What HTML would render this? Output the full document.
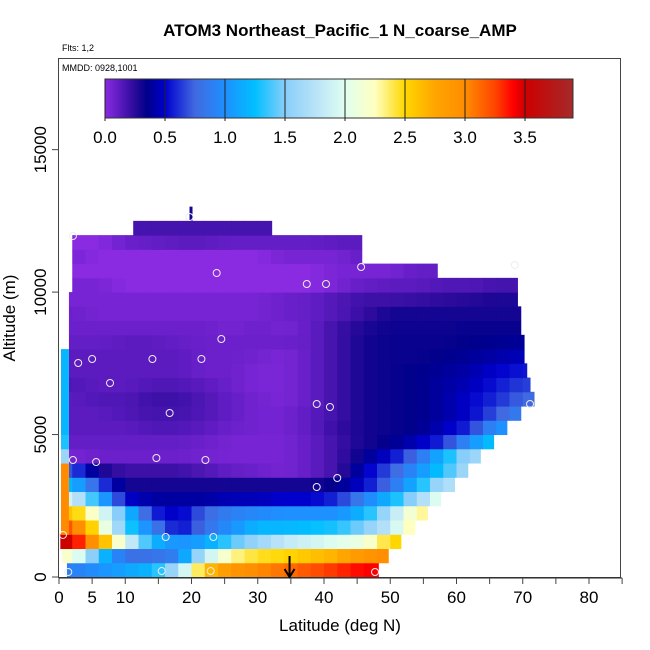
<!DOCTYPE html>
<html><head><meta charset="utf-8"><style>
body{margin:0;background:#fff;}
svg{display:block;font-family:"Liberation Sans",sans-serif;}
</style></head><body>
<svg id="chart" width="650" height="650" xmlns="http://www.w3.org/2000/svg">
<text x="340" y="36" text-anchor="middle" font-size="17" font-weight="bold">ATOM3 Northeast_Pacific_1 N_coarse_AMP</text>
<text x="62" y="51" font-size="9">Flts: 1,2</text>
<g id="heat"></g>
<g id="pts"></g>
<rect x="58.5" y="58.5" width="562" height="519" fill="none" stroke="#444" stroke-width="1"/>
<text x="62" y="71" font-size="9">MMDD: 0928,1001</text>
<g id="cbar"></g>
<g id="axes"></g>
<text x="340" y="631" text-anchor="middle" font-size="17">Latitude (deg N)</text>
<text transform="translate(15,318) rotate(-90)" text-anchor="middle" font-size="17">Altitude (m)</text>
</svg>
<script>
const colStep = 2;
const rowStep = 500;
const rowStart = [1.2,0.5,0.2,0.5,1.2,1.2,1.5,1.5,1.5,1.5,1.5,1.5,1.5,1.5,1.5,1.5,1.5,1.5,1.5,1.5,2,2,2,2,11.2];
const rowEnd = [48.2,49.7,51.6,53.7,55.6,57.6,59.7,61.7,63.6,65.6,67.6,69.7,71.7,71.1,70.6,70.2,70.2,69.7,69.7,69.2,69.2,57.1,45.7,45.7,32.1];
// values sampled every 4 deg; rendered with 2-deg interpolation between neighbours
const values = [
[0.9,1.0,1.1,1.2,1.7,2.6,2.9,3.0,3.1,3.2,3.3,3.4,3.4],
[2.2,1.3,0.8,0.8,0.9,1.8,2.3,2.45,2.5,2.6,2.7,2.9,3.0],
[3.5,2.8,2.0,1.2,1.0,1.1,1.4,1.6,1.8,1.9,2.0,2.1,2.5],
[3.2,2.3,1.4,0.9,0.5,0.8,1.0,1.2,1.2,1.25,1.3,1.5,1.8,2.4],
[2.6,2.1,1.3,0.6,0.45,0.75,0.9,0.95,1.0,1.0,1.0,1.2,1.7,2.3],
[1.9,1.2,0.5,0.4,0.4,0.4,0.45,0.45,0.5,0.5,0.6,0.9,1.2,1.6,2.1],
[1.2,0.7,0.3,0.3,0.3,0.3,0.3,0.3,0.3,0.3,0.35,0.5,0.8,1.2,1.7],
[0.7,0.3,0.2,0.2,0.2,0.15,0.1,0.08,0.05,0.1,0.2,0.45,0.7,1.0,1.3,1.7],
[0.05,0.08,0.08,0.08,0.08,0.06,0.05,0.05,0.05,0.1,0.2,0.35,0.5,0.8,1.2,1.6],
[0.1,0.1,0.1,0.1,0.1,0.08,0.05,0.05,0.05,0.1,0.2,0.3,0.35,0.45,0.6,1.0,1.3],
[0.12,0.12,0.12,0.15,0.15,0.12,0.08,0.06,0.06,0.12,0.22,0.3,0.33,0.35,0.45,0.6,1.0],
[0.12,0.12,0.15,0.18,0.18,0.15,0.1,0.06,0.06,0.12,0.2,0.3,0.33,0.35,0.4,0.5,0.7,0.9],
[0.12,0.15,0.15,0.2,0.2,0.15,0.1,0.06,0.04,0.1,0.2,0.3,0.33,0.35,0.4,0.5,0.6,0.75],
[0.15,0.12,0.12,0.15,0.15,0.12,0.08,0.04,0.04,0.1,0.2,0.3,0.33,0.35,0.4,0.45,0.55,0.65],
[0.12,0.12,0.12,0.12,0.12,0.08,0.08,0.04,0.04,0.1,0.2,0.3,0.33,0.35,0.38,0.42,0.5,0.55],
[0.12,0.12,0.12,0.12,0.12,0.08,0.08,0.06,0.04,0.1,0.2,0.3,0.33,0.33,0.35,0.38,0.42,0.45],
[0.1,0.1,0.12,0.12,0.1,0.08,0.08,0.08,0.08,0.1,0.2,0.3,0.33,0.33,0.33,0.35,0.36,0.38],
[0.08,0.08,0.08,0.08,0.08,0.08,0.05,0.08,0.05,0.1,0.2,0.28,0.32,0.32,0.32,0.33,0.33,0.33],
[0.08,0.05,0.05,0.05,0.05,0.05,0.05,0.05,0.08,0.1,0.15,0.22,0.3,0.3,0.3,0.3,0.3,0.3],
[0.05,0.05,0.05,0.05,0.05,0.05,0.05,0.05,0.08,0.1,0.15,0.2,0.2,0.22,0.24,0.26,0.28,0.28],
[0.05,0.05,0.0,0.0,0.0,0.0,0.0,0.0,0.0,0.0,0.05,0.1,0.12,0.12,0.15,0.15,0.18,0.18],
[0.0,0.0,0.0,0.0,0.0,0.0,0.0,0.0,0.0,0.0,0.05,0.05,0.05,0.1,0.1,0.1,0.1,0.1],
[0.05,0.0,0.0,0.0,0.0,0.0,0.0,0.0,0.05,0.05,0.05,0.1,0.1,0.1,0.1],
[0.0,0.0,0.08,0.1,0.12,0.12,0.1,0.1,0.1,0.1,0.12,0.12],
[null,null,0.18,0.18,0.18,0.18,0.18,0.18,0.18]
];
const edgeVals = [null,null,null,3.0,3.0,3.0,3.0,3.0,1.6,1.3,1.2,1.2,1.2,1.2,1.2,1.2,null,null,null,null,null,null,null,null,null];
const ptLat = [1.4,15.5,22.9,47.7,0.6,16.1,23.3,38.9,42.0,2.1,5.6,14.7,22.1,16.7,38.9,40.9,7.7,2.9,5.0,14.1,21.5,24.5,37.4,40.3,23.8,45.6,68.8,2.1,19.7,71.1];
const ptAlt = [175,210,210,175,1475,1404,1404,3159,3475,4107,4036,4177,4107,5756,6072,5967,6809,7511,7652,7652,7652,8354,10284,10284,10670,10881,10951,11969,12636,6072];
const xTicks = [0,5,10,20,30,40,50,60,70,80];
const yTicks = [0,5000,10000,15000];
const cbTicks = [0.0,0.5,1.0,1.5,2.0,2.5,3.0,3.5];
const arrowLat = 34.8;

const NS="http://www.w3.org/2000/svg";
const X = lat => 59 + lat*6.625;
const Y = alt => 577 - alt*0.02849;
const CB = v => 105 + v*120;
const stops=[[0,'#8a2be2'],[0.25,'#2a0a9a'],[0.35,'#00008b'],[0.5,'#0000cd'],[0.75,'#4169e1'],[1.0,'#1e90ff'],[1.25,'#00bfff'],[1.5,'#87cefa'],[1.75,'#b8e2f8'],[2.0,'#e0fff0'],[2.25,'#ffffc0'],[2.5,'#ffd700'],[2.75,'#ffa500'],[3.0,'#ff8c00'],[3.25,'#ff4500'],[3.4,'#ff0000'],[3.5,'#cd0000'],[3.9,'#a52a2a']];
function hex(h){return [1,3,5].map(i=>parseInt(h.substr(i,2),16));}
function color(v){
  if(v<=0)return stops[0][1];
  for(let i=1;i<stops.length;i++){if(v<=stops[i][0]){const a=stops[i-1],b=stops[i];const t=(v-a[0])/(b[0]-a[0]);const ca=hex(a[1]),cb=hex(b[1]);return 'rgb('+ca.map((c,k)=>Math.round(c+(cb[k]-c)*t)).join(',')+')';}}
  return stops[stops.length-1][1];
}
function mk(tag,attrs,parent){const e=document.createElementNS(NS,tag);for(const k in attrs)e.setAttribute(k,attrs[k]);parent.appendChild(e);return e;}
const heat=document.getElementById('heat');
values.forEach((row,r)=>{
  const n=row.length;
  for(let s=0;s<n*2;s++){
    const c=Math.floor(s/2);
    let v=row[c];
    if(v===null)continue;
    const nb=(s%2===0)?row[c-1]:row[c+1];
    if(nb!==undefined&&nb!==null)v=0.75*v+0.25*nb;
    const l0=Math.max(s*colStep,rowStart[r]),l1=Math.min((s+1)*colStep,rowEnd[r]);
    if(l1<=l0)continue;
    const e=mk('rect',{x:X(l0),y:Y((r+1)*rowStep),width:X(l1)-X(l0)+0.5,height:Y(r*rowStep)-Y((r+1)*rowStep)+0.5,fill:color(v)},heat);
    
    
  }
  if(edgeVals[r]!==null){
    const e=mk('rect',{x:X(0.3),y:Y((r+1)*rowStep),width:X(1.5)-X(0.3),height:Y(r*rowStep)-Y((r+1)*rowStep)+0.5,fill:color(edgeVals[r])},heat);
    
    
  }
});
const sp=mk('rect',{x:X(19.7),y:Y(13000),width:3,height:Y(12500)-Y(13000),fill:color(0.3)},heat);


const pts=document.getElementById('pts');
ptLat.forEach((la,i)=>{
  const c=mk('circle',{cx:X(la),cy:Y(ptAlt[i]),r:3.5,fill:'none',stroke:'#eee','stroke-width':1},pts);
  
  
});
const axes=document.getElementById('axes');
mk('line',{x1:X(0),x2:X(85),y1:578,y2:578,stroke:'#222'},axes);
for(let t=0;t<=85;t+=5){mk('line',{x1:X(t),x2:X(t),y1:578,y2:584,stroke:'#444'},axes);}
xTicks.forEach(t=>{const e=mk('text',{x:X(t),y:603,'text-anchor':'middle','font-size':17},axes);e.textContent=t;
  
  });
yTicks.forEach(t=>{mk('line',{x1:52,x2:58.5,y1:Y(t),y2:Y(t),stroke:'#444'},axes);
  const e=mk('text',{transform:`translate(46,${Y(t)}) rotate(-90)`,'text-anchor':'middle','font-size':17},axes);e.textContent=t;
  
  });
const ar=mk('g',{},axes);


mk('line',{x1:X(arrowLat),x2:X(arrowLat),y1:556,y2:577,stroke:'#000','stroke-width':2},ar);
mk('path',{d:`M${X(arrowLat)-5},569 L${X(arrowLat)},577 L${X(arrowLat)+5},569`,fill:'none',stroke:'#000','stroke-width':2},ar);
const cbar=document.getElementById('cbar');
const defs=mk('defs',{},cbar);
const lg=mk('linearGradient',{id:'cg',x1:0,x2:1,y1:0,y2:0},defs);
for(let v=0;v<=3.9;v+=0.05){mk('stop',{offset:(v/3.9),'stop-color':color(v)},lg);}
mk('rect',{x:105,y:79,width:CB(3.9)-105,height:39,fill:'url(#cg)',stroke:'#333'},cbar);
cbTicks.forEach(t=>{mk('line',{x1:CB(t),x2:CB(t),y1:79,y2:121,stroke:'#222'},cbar);
  const e=mk('text',{x:CB(t),y:143,'text-anchor':'middle','font-size':17},cbar);e.textContent=t.toFixed(1);
  
  });
</script>
</body></html>
